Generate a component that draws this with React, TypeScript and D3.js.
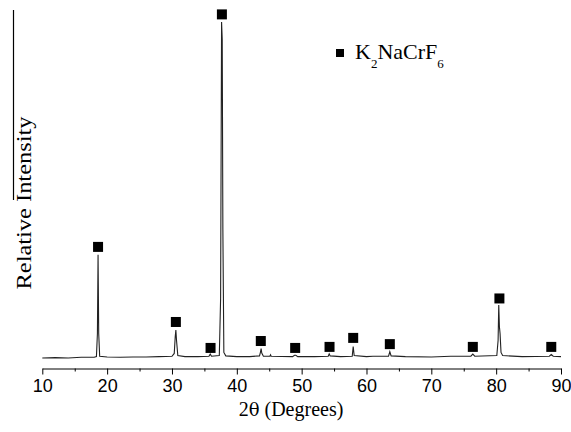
import { useEffect, useRef } from 'react'
import * as d3 from 'd3'

// XRD trace (2θ in degrees, relative intensity 0-100)
const traceTheta = [
  10, 12, 14, 16, 18, 18.35, 18.5, 18.6, 18.7, 18.85, 20, 22, 24, 26, 28, 30, 30.35, 30.5, 30.6, 30.7,
  30.9, 32, 34, 35.7, 35.9, 36.1, 37.3, 37.5, 37.65, 37.75, 37.85, 38.0, 38.3, 40, 42, 43.5, 43.65, 43.75,
  43.85, 44.1, 45.1, 45.2, 45.3, 48.6, 48.9, 49.1, 49.4, 52, 54.1, 54.25, 54.4, 56, 57.8, 57.95, 58.1, 60,
  61, 63.4, 63.6, 63.8, 66, 70, 73, 76.1, 76.4, 76.7, 80.1, 80.3, 80.4, 80.5, 80.6, 80.75, 81, 84, 88.2,
  88.5, 88.8, 90,
]
const traceIntensity = [
  2.9, 3.0, 2.9, 3.1, 3.1, 3.3, 10, 32.7, 10, 3.4, 3.2, 3.1, 3.2, 3.2, 3.3, 3.4, 4.2, 9, 11, 8,
  3.6, 3.3, 3.3, 3.4, 4.0, 3.4, 3.6, 20, 100, 95, 40, 4.5, 3.5, 3.3, 3.3, 3.5, 4.6, 5.6,
  4.3, 3.4, 3.4, 3.8, 3.4, 3.3, 3.7, 3.7, 3.3, 3.3, 3.4, 4.1, 3.5, 3.3, 3.4, 6.2, 3.6, 3.3,
  3.4, 3.4, 4.7, 3.5, 3.3, 3.2, 3.4, 3.4, 4.0, 3.4, 3.6, 8, 18.2, 12, 10, 4.5, 3.6, 3.3, 3.4,
  3.9, 3.4, 3.3,
]

// K2NaCrF6 reflection markers
const markerTheta = [18.6, 30.6, 35.95, 37.7, 43.7, 49.0, 54.3, 57.95, 63.6, 76.4, 80.5, 88.5]
const markerIntensity = [35.0, 13.3, 5.8, 102.2, 7.8, 5.8, 6.1, 8.7, 6.9, 6.1, 20.1, 6.1]

const xTicks = [10, 20, 30, 40, 50, 60, 70, 80, 90]
const xMinorTicks = [15, 25, 35, 45, 55, 65, 75, 85]

function App() {
  const ref = useRef<SVGSVGElement | null>(null)

  useEffect(() => {
    const el = ref.current
    if (!el) return
    const width = 571
    const height = 432
    const svg = d3.select(el)
    svg.selectAll('*').remove()

    svg.append('rect').attr('width', width).attr('height', height).attr('fill', '#fff')

    const x = d3.scaleLinear().domain([10, 90]).range([42.3, 561])
    const y = d3.scaleLinear().domain([0, 100]).range([368, 22])
    const axisY = 368.5

    // minor ticks
    svg
      .append('g')
      .attr('transform', `translate(0,${axisY})`)
      .call(d3.axisBottom(x).tickValues(xMinorTicks).tickSize(3).tickFormat(() => ''))
      .call((g) => g.select('.domain').remove())
      .call((g) => g.selectAll('line').attr('stroke', '#000'))

    svg
      .append('g')
      .attr('transform', `translate(0,${axisY})`)
      .call(d3.axisBottom(x).tickValues(xTicks).tickSize(6).tickSizeOuter(0).tickPadding(5))
      .call((g) => g.selectAll('path,line').attr('stroke', '#000'))
      .call((g) =>
        g
          .selectAll('text')
          .attr('fill', '#000')
          .attr('font-family', '"Liberation Sans", Arial, sans-serif')
          .attr('font-size', 18),
      )

    // partial left axis line
    svg
      .append('line')
      .attr('x1', 13.5)
      .attr('x2', 13.5)
      .attr('y1', 10)
      .attr('y2', 200)
      .attr('stroke', '#000')
      .attr('stroke-width', 1.2)

    const pts: [number, number][] = traceTheta.map((t, i) => [t, traceIntensity[i]])
    const line = d3
      .line<[number, number]>()
      .x((d) => x(d[0]))
      .y((d) => y(d[1]))
    svg
      .append('path')
      .attr('d', line(pts))
      .attr('fill', 'none')
      .attr('stroke', '#222')
      .attr('stroke-width', 1.1)

    const ms = 10
    svg
      .append('g')
      .selectAll('rect')
      .data(markerTheta)
      .join('rect')
      .attr('x', (d) => x(d) - ms / 2)
      .attr('y', (_d, i) => y(markerIntensity[i]) - ms / 2)
      .attr('width', ms)
      .attr('height', ms)
      .attr('fill', '#000')

    const serif = '"Liberation Serif", "Times New Roman", serif'

    // legend
    svg.append('rect').attr('x', 336).attr('y', 49).attr('width', 8).attr('height', 8).attr('fill', '#000')
    const lt = svg
      .append('text')
      .attr('x', 355)
      .attr('y', 59)
      .attr('font-family', serif)
      .attr('font-size', 22)
      .attr('fill', '#000')
    lt.append('tspan').text('K')
    lt.append('tspan').attr('dy', 9).attr('font-size', 13).text('2')
    lt.append('tspan').attr('dy', -9).text('NaCrF')
    lt.append('tspan').attr('dy', 9).attr('font-size', 13).text('6')

    // axis titles
    const xt = svg
      .append('text')
      .attr('x', 291)
      .attr('y', 416)
      .attr('text-anchor', 'middle')
      .attr('font-family', serif)
      .attr('font-size', 20)
      .attr('fill', '#000')
    xt.append('tspan').text('2')
    xt.append('tspan').attr('font-family', '"DejaVu Serif", serif').attr('font-size', 18).text('θ')
    xt.append('tspan').text(' (Degrees)')

    svg
      .append('text')
      .attr('transform', 'translate(31,203) rotate(-90)')
      .attr('text-anchor', 'middle')
      .attr('font-family', serif)
      .attr('font-size', 21)
      .attr('textLength', 173)
      .attr('lengthAdjust', 'spacingAndGlyphs')
      .attr('fill', '#000')
      .text('Relative Intensity')
  }, [])

  return (
    <svg
      ref={ref}
      width={571}
      height={432}
      style={{ position: 'absolute', left: 0, top: 0, display: 'block' }}
    />
  )
}

export default App
